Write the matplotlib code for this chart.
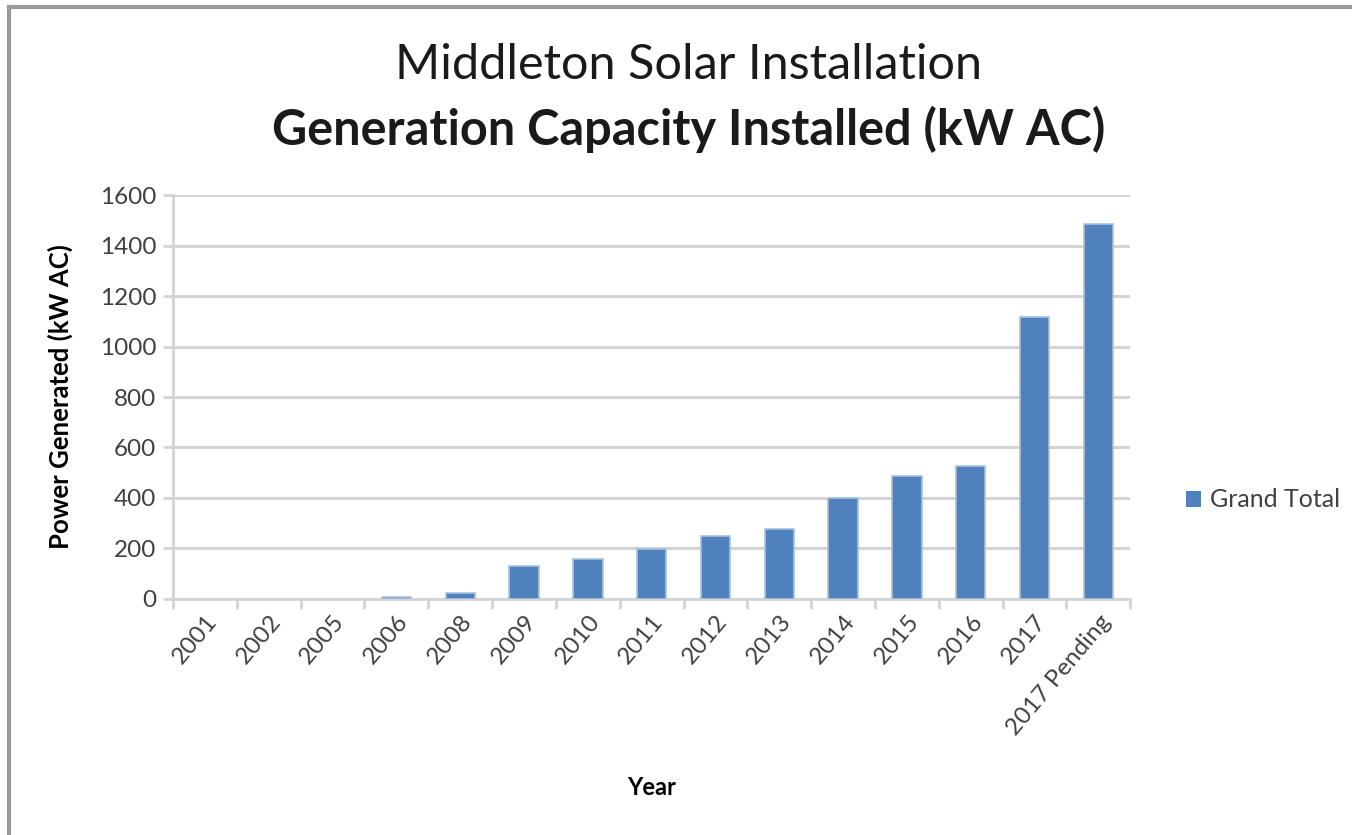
import matplotlib.pyplot as plt
from matplotlib.lines import Line2D
import numpy as np

plt.rcParams['font.family'] = ['Lato', 'DejaVu Sans']

# data
years = ['2001', '2002', '2005', '2006', '2008', '2009', '2010', '2011',
         '2012', '2013', '2014', '2015', '2016', '2017', '2017 Pending']
capacity_kw = [0, 0, 0, 5, 24, 130, 158, 199, 248, 276, 400, 486, 526, 1117, 1486]

fig = plt.figure(figsize=(13.52, 8.35), dpi=100)
ax = fig.add_axes([0.128, 0.283, 0.708, 0.483])

x = np.arange(len(years))
edges = ['#A7C0E0' if v > 0 else 'none' for v in capacity_kw]
ax.bar(x, capacity_kw, width=0.46, color='#4F81BD', edgecolor=edges,
       linewidth=1.2, label='Grand Total', zorder=3)

ax.set_xlim(-0.5, len(years) - 0.5)
ax.set_ylim(0, 1600)
ax.set_yticks(np.arange(0, 1601, 200))
ax.yaxis.grid(True, color='#d4d4d4', linewidth=2.2, zorder=0)

# category labels at centres, tick marks between categories
ax.set_xticks(x)
ax.set_xticklabels(years, rotation=50, ha='right', va='top',
                   rotation_mode='anchor', fontsize=17.5, color='#404040')
ax.tick_params(axis='x', which='major', length=0, pad=9)
ax.set_xticks(np.arange(-0.5, len(years), 1), minor=True)
ax.tick_params(axis='x', which='minor', length=7, width=2, color='#d4d4d4')
ax.tick_params(axis='y', length=7, width=2, color='#d4d4d4',
               labelsize=17.5, labelcolor='#404040', pad=5)

for side in ['top', 'right']:
    ax.spines[side].set_visible(False)
for side in ['left', 'bottom']:
    ax.spines[side].set_color('#d4d4d4')
    ax.spines[side].set_linewidth(2)

ax.set_ylabel('Power Generated (kW AC)', fontsize=18.5, fontweight='bold')
ax.yaxis.set_label_coords(-0.105, 0.5)
ax.set_xlabel('Year', fontsize=17, fontweight='bold')
ax.xaxis.set_label_coords(0.5, -0.44)

fig.text(0.509, 0.922, 'Middleton Solar Installation', ha='center', va='center',
         fontsize=35, color='#1a1a1a')
fig.text(0.509, 0.845, 'Generation Capacity Installed (kW AC)', ha='center',
         va='center', fontsize=35, fontweight='bold', color='#1a1a1a')

ax.legend(loc='center left', bbox_to_anchor=(1.035, 0.245), frameon=False,
          fontsize=18, handlelength=0.6, handleheight=0.6, handletextpad=0.35,
          labelcolor='#404040')

# grey frame on left and top edges
fig.add_artist(Line2D([0.0064, 0.0064], [0, 0.9922], color='#9a9a9a',
                      linewidth=3, transform=fig.transFigure))
fig.add_artist(Line2D([0.0064, 1], [0.9922, 0.9922], color='#9a9a9a',
                      linewidth=3, transform=fig.transFigure))

fig.savefig('out.png', dpi=100)
